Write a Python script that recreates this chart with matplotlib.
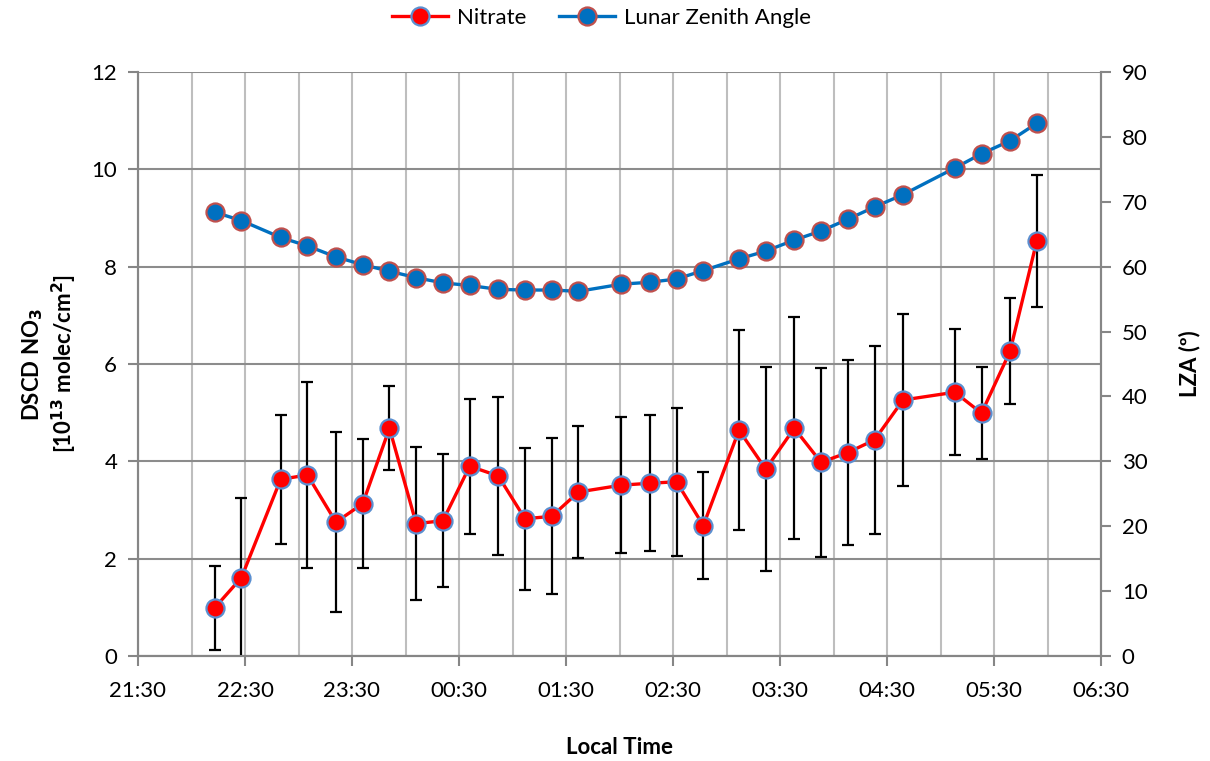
import datetime as dt
import matplotlib
matplotlib.use("Agg")
import matplotlib.pyplot as plt
import matplotlib.dates as mdates

plt.rcParams["font.family"] = ["Lato", "DejaVu Sans"]

# Measurement times (local), NO3 slant columns with errors, lunar zenith angle
times = ["22:13", "22:28", "22:50", "23:05", "23:21", "23:36", "23:51", "00:06",
         "00:21", "00:36", "00:52", "01:07", "01:22", "01:37", "02:01", "02:17",
         "02:32", "02:47", "03:07", "03:22", "03:38", "03:53", "04:08", "04:23",
         "04:39", "05:08", "05:23", "05:39", "05:54"]
nitrate = [0.99, 1.61, 3.63, 3.72, 2.75, 3.13, 4.68, 2.72, 2.78, 3.90, 3.70, 2.82,
           2.87, 3.37, 3.51, 3.55, 3.58, 2.68, 4.64, 3.84, 4.68, 3.98, 4.18, 4.44,
           5.26, 5.42, 4.99, 6.26, 8.53]
nitrate_err = [0.86, 1.63, 1.33, 1.92, 1.85, 1.33, 0.86, 1.57, 1.37, 1.39, 1.63, 1.46,
               1.60, 1.35, 1.40, 1.40, 1.52, 1.10, 2.05, 2.10, 2.28, 1.94, 1.90, 1.94,
               1.77, 1.30, 0.94, 1.09, 1.35]
lza = [68.4, 67.1, 64.5, 63.2, 61.5, 60.3, 59.3, 58.3, 57.5, 57.1, 56.5, 56.4, 56.4,
       56.2, 57.3, 57.6, 58.1, 59.4, 61.2, 62.4, 64.1, 65.5, 67.3, 69.2, 71.1, 75.2,
       77.4, 79.4, 82.1]

BASE = dt.datetime(2000, 1, 1)


def to_dt(s):
    h, m = map(int, s.split(":"))
    day = 0 if h >= 12 else 1
    return BASE + dt.timedelta(days=day, hours=h, minutes=m)


x = [to_dt(t) for t in times]

AXIS_GREY = "#868686"
GRID_V = "#bebebe"
GRID_H = "#8c8c8c"
FS = 16

fig = plt.figure(figsize=(12.1, 7.61), dpi=100)
ax = fig.add_axes([138 / 1210, 1 - 656 / 761, (1101 - 138) / 1210, (656 - 72) / 761])
ax2 = ax.twinx()

ax.errorbar(x, nitrate, yerr=nitrate_err, fmt="none", ecolor="black",
            elinewidth=1.6, capsize=4.5, capthick=1.6, zorder=3)
ln1, = ax.plot(x, nitrate, color="#ff0000", lw=2.4, marker="o", ms=13,
               mfc="#ff0000", mec="#5b8fd0", mew=1.6, zorder=4, label="Nitrate")
ln2, = ax2.plot(x, lza, color="#0070c0", lw=2.4, marker="o", ms=13,
                mfc="#0070c0", mec="#c0504d", mew=1.6, zorder=4,
                label="Lunar Zenith Angle")

ax.set_xlim(to_dt("21:30"), to_dt("06:30"))
ax.set_ylim(0, 12)
ax.set_yticks(range(0, 13, 2))
ax2.set_ylim(0, 90)
ax2.set_yticks(range(0, 91, 10))

ax.xaxis.set_major_locator(mdates.MinuteLocator(byminute=[30]))
ax.xaxis.set_minor_locator(mdates.MinuteLocator(byminute=[0]))
ax.xaxis.set_major_formatter(mdates.DateFormatter("%H:%M"))

ax.set_axisbelow(True)
ax.grid(True, axis="x", which="both", color=GRID_V, lw=1.5)
ax.grid(True, axis="y", which="major", color=GRID_H, lw=1.5)

for a in (ax, ax2):
    a.spines["top"].set_visible(False)
    for side in ("left", "right", "bottom"):
        a.spines[side].set_color(AXIS_GREY)
        a.spines[side].set_linewidth(1.5)
    a.tick_params(axis="both", which="major", labelsize=FS, color=AXIS_GREY,
                  width=1.5, length=7, direction="out")
ax.tick_params(axis="x", which="minor", length=0)
ax.tick_params(axis="x", which="major", pad=11)
ax.tick_params(axis="y", pad=8)
ax2.tick_params(axis="y", pad=8)

ax.set_xlabel("Local Time", fontsize=FS, fontweight="bold", labelpad=26)
ax.set_ylabel("DSCD NO$_\\mathbf{3}$\n[10$^{\\mathbf{13}}$ molec/cm$^\\mathbf{2}$]",
              fontsize=FS, fontweight="bold", labelpad=9, linespacing=1.2)
ax2.set_ylabel("LZA (º)", fontsize=FS, fontweight="bold", labelpad=22)

fig.legend(handles=[ln1, ln2], loc="center", bbox_to_anchor=(0.497, 0.976),
           ncol=2, frameon=False, fontsize=FS, handlelength=2.5,
           columnspacing=1.5, handletextpad=0.4)

fig.savefig("out.png", dpi=100)
